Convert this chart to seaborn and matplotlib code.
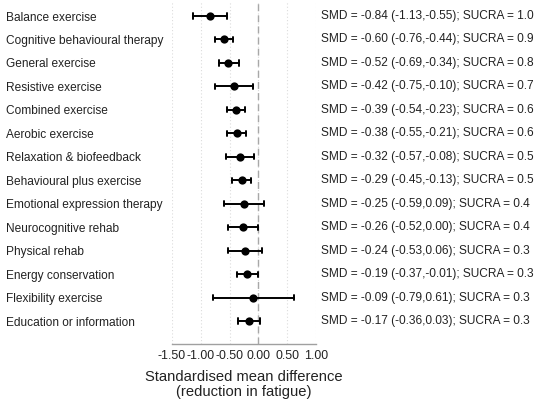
import matplotlib
matplotlib.use("Agg")
import matplotlib.pyplot as plt
import matplotlib.transforms as mtransforms
import seaborn as sns
import pandas as pd

treatments = [
    "Balance exercise", "Cognitive behavioural therapy", "General exercise",
    "Resistive exercise", "Combined exercise", "Aerobic exercise",
    "Relaxation & biofeedback", "Behavioural plus exercise",
    "Emotional expression therapy", "Neurocognitive rehab", "Physical rehab",
    "Energy conservation", "Flexibility exercise", "Education or information",
]
smd = [-0.84, -0.60, -0.52, -0.42, -0.39, -0.38, -0.32, -0.29, -0.25, -0.26,
       -0.24, -0.19, -0.09, -0.17]
ci_low = [-1.13, -0.76, -0.69, -0.75, -0.54, -0.55, -0.57, -0.45, -0.59, -0.52,
          -0.53, -0.37, -0.79, -0.36]
ci_high = [-0.55, -0.44, -0.34, -0.10, -0.23, -0.21, -0.08, -0.13, 0.09, 0.00,
           0.06, -0.01, 0.61, 0.03]
sucra = [1.0, 0.9, 0.8, 0.7, 0.6, 0.6, 0.5, 0.5, 0.4, 0.4, 0.3, 0.3, 0.3, 0.3]
xticks = [-1.5, -1.0, -0.5, 0.0, 0.5, 1.0]
xtick_labels = ["-1.50", "-1.00", "-0.50", "0.00", "0.50", "1.00"]

# long table: low / estimate / high per treatment -> median = estimate, min/max = CI
rows = []
for t, lo, m, hi in zip(treatments, ci_low, smd, ci_high):
    for v in (lo, m, hi):
        rows.append({"treatment": t, "value": v})
df = pd.DataFrame(rows)

sns.set_theme(style="white")
plt.rcParams["font.family"] = ["Liberation Sans", "DejaVu Sans"]

fig = plt.figure(figsize=(5.45, 4.07), dpi=100)
W, H = 545, 407
left_px, right_px, top_px, bot_px = 172, 316, 2, 344
ax = fig.add_axes([left_px / W, (H - bot_px) / H,
                   (right_px - left_px) / W, (bot_px - top_px) / H])

ax.grid(axis="x", linestyle=(0, (1, 2)), color="#dcdcdc", linewidth=0.8)
ax.axvline(0, color="#a8a8a8", linestyle=(0, (5, 3)), linewidth=1.0, zorder=1)

sns.pointplot(data=df, x="value", y="treatment", order=treatments,
              estimator="median", errorbar=lambda x: (x.min(), x.max()),
              orient="h", linestyle="none", color="black",
              markers="o", markersize=3.9, capsize=0.22,
              err_kws={"linewidth": 1.4, "color": "black"}, ax=ax)

ax.set_xlim(-1.5, 1.0)
ax.set_ylim(13.98, -0.597)
ax.set_xticks(xticks)
ax.set_xticklabels(xtick_labels, fontsize=8.9, color="#222222")
ax.tick_params(axis="x", direction="in", length=4, width=1, color="#a0a0a0",
               pad=4)
ax.set_yticks(range(len(treatments)))
ax.set_yticklabels(treatments, fontsize=8.6, color="#222222", ha="left")
ax.tick_params(axis="y", length=0, pad=(left_px - 6) * 72 / 100)
ax.set_ylabel("")
ax.set_xlabel("Standardised mean difference\n(reduction in fatigue)",
              fontsize=10.6, color="#222222", labelpad=6, linespacing=1.1)

for s in ("top", "left", "right"):
    ax.spines[s].set_visible(False)
ax.spines["bottom"].set_color("#a0a0a0")
ax.spines["bottom"].set_linewidth(1)

trans = mtransforms.blended_transform_factory(fig.transFigure, ax.transData)
for i, (m, lo, hi, s) in enumerate(zip(smd, ci_low, ci_high, sucra)):
    ax.text(321 / W, i,
            f"SMD = {m:.2f} ({lo:.2f},{hi:.2f}); SUCRA = {s:.1f}",
            transform=trans, fontsize=8.6, color="#222222",
            ha="left", va="center", clip_on=False)

fig.savefig("out.png", dpi=100, facecolor="white")
